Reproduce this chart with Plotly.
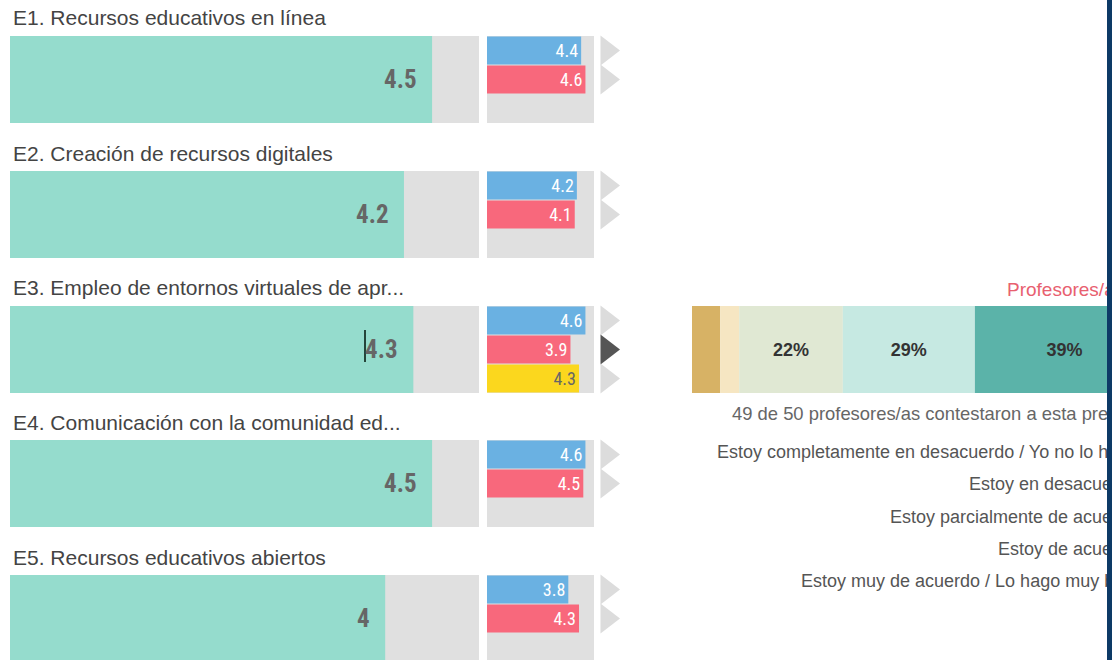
import plotly.graph_objects as go

# --- data -------------------------------------------------------------
titles = [
    "E1. Recursos educativos en línea",
    "E2. Creación de recursos digitales",
    "E3. Empleo de entornos virtuales de apr...",
    "E4. Comunicación con la comunidad ed...",
    "E5. Recursos educativos abiertos",
]
overall = [4.5, 4.2, 4.3, 4.5, 4.0]
overall_text = ["4.5", "4.2", "4.3", "4.5", "4"]
group_blue = [4.4, 4.2, 4.6, 4.6, 3.8]
group_red = [4.6, 4.1, 3.9, 4.5, 4.3]
group_yellow = [None, None, 4.3, None, None]
selected_slot = [None, None, 1, None, None]   # dark arrow = group being shown on the right

answer_labels = [
    "Estoy completamente en desacuerdo / Yo no lo hago",
    "Estoy en desacuerdo",
    "Estoy parcialmente de acuerdo",
    "Estoy de acuerdo",
    "Estoy muy de acuerdo / Lo hago muy bien",
]
answer_counts = [3, 2, 11, 14, 19]
answered, total = 49, 50
detail_title = "Profesores/as"
scale_max = 5

# --- style ------------------------------------------------------------
W, H = 1112, 660
row_top = [36, 171, 306, 440, 575]
bar_h = 87
GREEN, GREY = "#95dccd", "#e0e0e0"
slot_colors = ["#6ab1e2", "#f8687c", "#fbd71e"]
slot_text = ["white", "white", "#666666"]
answer_colors = ["#d7b265", "#f6e6c2", "#e0e8d3", "#c6e9e2", "#5bb3a9"]
EDGE = "#0d3a66"
FONT = "Liberation Sans, Arial, sans-serif"
NARROW = "Liberation Sans Narrow, Arial Narrow, Roboto Condensed, Liberation Sans, sans-serif"


def px(x):
    return x / W


def py(y):
    return 1 - y / H


fig = go.Figure()
layout = dict(
    width=W, height=H, margin=dict(l=0, r=0, t=0, b=0),
    paper_bgcolor="white", plot_bgcolor="rgba(0,0,0,0)",
    showlegend=False, barmode="overlay", font=dict(family=FONT),
)
annotations = []
hidden = dict(visible=False, fixedrange=True)

small_right = 632  # small axis extends past the grey box to hold the arrows
small_span = scale_max * (small_right - 487) / (594 - 487)
arrow_x = scale_max * (607 - 487) / (594 - 487)

for i in range(5):
    top = row_top[i]
    bottom = min(top + bar_h, H)
    f = (bottom - top) / bar_h
    dom_y = [py(bottom), py(top)]
    nb, ns = 2 * i + 1, 2 * i + 2
    xb, yb = f"x{nb}", f"y{nb}"
    xs, ys = f"x{ns}", f"y{ns}"

    layout[f"xaxis{nb}"] = dict(domain=[px(10), px(479)], range=[0, scale_max],
                                anchor=yb, **hidden)
    layout[f"yaxis{nb}"] = dict(domain=dom_y, range=[-0.5 + f, -0.5], anchor=xb, **hidden)
    layout[f"xaxis{ns}"] = dict(domain=[px(487), px(small_right)], range=[0, small_span],
                                anchor=ys, **hidden)
    layout[f"yaxis{ns}"] = dict(domain=dom_y, range=[-0.5 + 3 * f, -0.5], anchor=xs, **hidden)

    # overall score
    fig.add_trace(go.Bar(x=[scale_max], y=[0], orientation="h", width=1,
                         marker=dict(color=GREY, line_width=0), xaxis=xb, yaxis=yb,
                         hoverinfo="skip"))
    fig.add_trace(go.Bar(x=[overall[i]], y=[0], orientation="h", width=1,
                         marker=dict(color=GREEN, line_width=0), xaxis=xb, yaxis=yb))
    annotations.append(dict(x=overall[i], y=0, xref=xb, yref=yb, text=overall_text[i],
                            xanchor="right", yanchor="middle", xshift=-13, showarrow=False,
                            font=dict(family=NARROW, size=25, color="#666666", weight="bold")))

    # groups
    fig.add_trace(go.Bar(x=[scale_max] * 3, y=[0, 1, 2], orientation="h", width=1,
                         marker=dict(color=GREY, line_width=0), xaxis=xs, yaxis=ys,
                         hoverinfo="skip"))
    vals = [group_blue[i], group_red[i], group_yellow[i]]
    ax_pts, ay_pts, a_cols = [], [], []
    for s, v in enumerate(vals):
        if v is None:
            continue
        fig.add_trace(go.Bar(x=[v], y=[s], orientation="h", width=0.97,
                             marker=dict(color=slot_colors[s], line_width=0),
                             text=[f"{v:g}"], textposition="inside", insidetextanchor="end",
                             textfont=dict(family=NARROW, size=18, color=slot_text[s]),
                             constraintext="none", xaxis=xs, yaxis=ys))
        ax_pts.append(arrow_x)
        ay_pts.append(s)
        a_cols.append("#555555" if selected_slot[i] == s else "#dcdcdc")
    fig.add_trace(go.Scatter(x=ax_pts, y=ay_pts, mode="markers", xaxis=xs, yaxis=ys,
                             marker=dict(symbol="triangle-right", size=26, color=a_cols,
                                         line_width=0),
                             cliponaxis=False, hoverinfo="skip"))

    annotations.append(dict(x=px(11), y=py(top - 18), xref="paper", yref="paper",
                            text=titles[i], xanchor="left", yanchor="middle",
                            showarrow=False, font=dict(size=21, color="#444444")))

# --- distribution for the selected group (row E3) ---------------------
d_top = row_top[2]
full_w = 462
layout["xaxis11"] = dict(domain=[px(692), 1], range=[0, 100 * (W - 692) / full_w],
                         anchor="y11", **hidden)
layout["yaxis11"] = dict(domain=[py(d_top + bar_h), py(d_top)], range=[0.5, -0.5],
                         anchor="x11", **hidden)
base = 0
for lab, cnt, col in zip(answer_labels, answer_counts, answer_colors):
    pct = cnt / answered * 100
    fig.add_trace(go.Bar(x=[pct], base=[base], y=[0], orientation="h", width=1, name=lab,
                         marker=dict(color=col, line_width=0), xaxis="x11", yaxis="y11",
                         text=[f"{pct:.0f}%" if pct >= 10 else ""], textposition="inside",
                         insidetextanchor="middle", constraintext="none",
                         textfont=dict(size=18, color="#333333", weight="bold")))
    base += pct

annotations.append(dict(x=px(1005), y=py(289), xref="paper", yref="paper",
                        text=detail_title, xanchor="left", yanchor="middle", showarrow=False,
                        font=dict(size=19, color="#e8606f")))
annotations.append(dict(x=px(730), y=py(413), xref="paper", yref="paper",
                        text=f"{answered} de {total} profesores/as contestaron a esta pregunta.",
                        xanchor="left", yanchor="middle", showarrow=False,
                        font=dict(size=18.4, color="#666666")))
for k, lab in enumerate(answer_labels):
    annotations.append(dict(x=px(1140), y=py(452 + 32.3 * k), xref="paper", yref="paper",
                            text=lab, xanchor="right", yanchor="middle", showarrow=False,
                            font=dict(size=18, color="#555555")))

# dark edge of the side panel, drawn last so it sits on top of the texts
annotations.append(dict(x=1, y=0.5, xref="paper", yref="paper", text="&nbsp;",
                        xanchor="right", yanchor="middle", showarrow=False,
                        width=5, height=H, bgcolor=EDGE, borderpad=0, borderwidth=0,
                        font=dict(size=10, color=EDGE)))

layout["annotations"] = annotations
layout["shapes"] = [
    dict(type="line", xref="paper", yref="paper",
         x0=px(365), x1=px(365), y0=py(330), y1=py(362),
         line=dict(color="#25453a", width=2)),
    dict(type="rect", xref="paper", yref="paper", layer="above",
         x0=px(1107), x1=1, y0=0, y1=1, fillcolor=EDGE, line_width=0),
]
fig.update_layout(**layout)

fig.write_html("out.html", config={"displayModeBar": False},
               post_script="document.body.style.margin = '0';")
